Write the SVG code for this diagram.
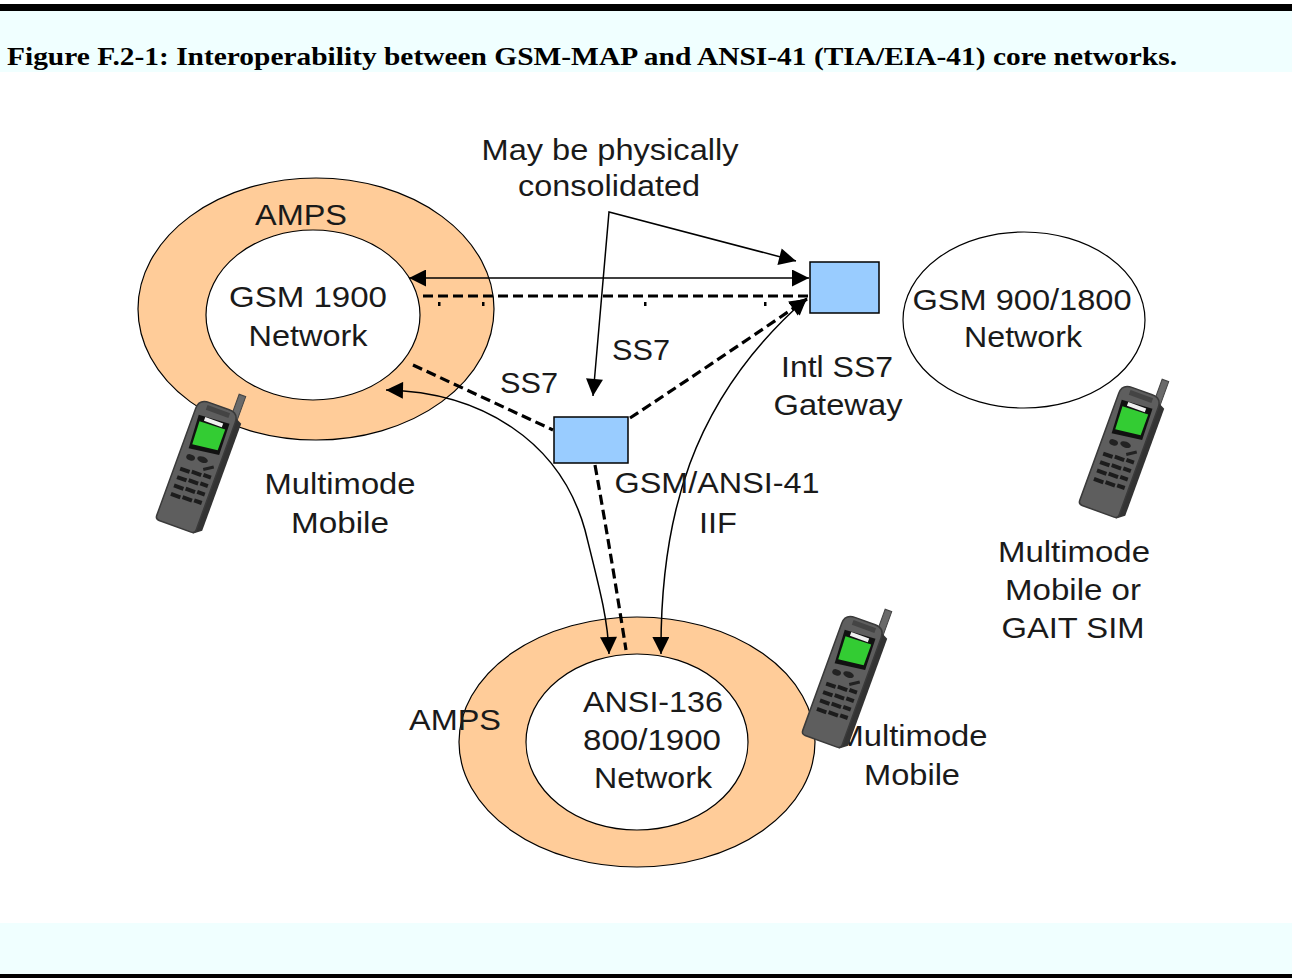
<svg xmlns="http://www.w3.org/2000/svg" xmlns:xlink="http://www.w3.org/1999/xlink" width="1292" height="978" viewBox="0 0 1292 978">
  <style>
    .lbl { font-family: "Liberation Sans", Arial, sans-serif; font-size: 29px; fill: #1a1a1a; text-anchor: middle; }
    .title { font-family: "Liberation Serif", "Times New Roman", serif; font-size: 26px; font-weight: bold; fill: #000; }
    .ring { fill: #FFCC99; stroke: #000; stroke-width: 1.2; }
    .core { fill: #FFFFFF; stroke: #000; stroke-width: 1.2; }
    .node { fill: #99CCFF; stroke: #000; stroke-width: 1.5; }
    .thin { fill: none; stroke: #000; stroke-width: 1.5; }
    .dash { fill: none; stroke: #000; stroke-width: 3.2; stroke-dasharray: 10 5; }
  </style>
  <defs>
    <marker id="arrow" viewBox="0 0 10 10" refX="10" refY="5" markerUnits="userSpaceOnUse" markerWidth="18" markerHeight="17" orient="auto-start-reverse">
      <path d="M0,0 L10,5 L0,10 Z" fill="#000"/>
    </marker>
    <!-- handset, drawn upright with its bottom centre at the origin -->
    <g id="phone">
      <rect x="13" y="-146" width="7" height="26" fill="#6a6a6a" stroke="#444" stroke-width="1"/>
      <path d="M15 -124 L25 -119 L25 -5 L17 1 Z" fill="#333"/>
      <path d="M-23 -118 Q-23 -128 -12 -128 L9 -128 Q19 -128 19 -118 L19 -4 Q19 0 15 0 L-19 0 Q-23 0 -23 -4 Z" fill="#5e5e5e" stroke="#3a3a3a" stroke-width="1.5"/>
      <rect x="-13" y="-125" width="24" height="5" fill="#444"/>
      <path d="M-18 -113 L14 -115 L15 -82 L-16 -78 Z" fill="#111"/>
      <rect x="-11" y="-113" width="19" height="4" fill="#f0f0f0"/>
      <path d="M-15 -107 L12 -108 L12 -86 L-14 -83 Z" fill="#33CC33"/>
      <ellipse cx="-11" cy="-70" rx="4.5" ry="3" fill="#222"/>
      <ellipse cx="1" cy="-72" rx="5.5" ry="3" fill="#222"/>
      <path d="M5 -63 L14 -69" stroke="#222" stroke-width="3"/>
      <g fill="#1c1c1c">
        <rect x="-17" y="-58" width="10" height="4"/>
        <rect x="-5" y="-59" width="10" height="4"/>
        <rect x="7" y="-60" width="8" height="4"/>
        <rect x="-17" y="-49" width="10" height="4"/>
        <rect x="-5" y="-50" width="10" height="4"/>
        <rect x="7" y="-51" width="8" height="4"/>
        <rect x="-17" y="-40" width="10" height="4"/>
        <rect x="-5" y="-41" width="10" height="4"/>
        <rect x="7" y="-42" width="8" height="4"/>
        <rect x="-17" y="-31" width="10" height="4"/>
        <rect x="-5" y="-32" width="10" height="4"/>
        <rect x="7" y="-33" width="8" height="4"/>
      </g>
    </g>
  </defs>

  <!-- page background and caption band -->
  <rect x="0" y="0" width="1292" height="978" fill="#FFFFFF"/>
  <rect x="0" y="10" width="1292" height="62" fill="#F0FFFF"/>
  <rect x="0" y="4" width="1292" height="7" fill="#000"/>
  <rect x="0" y="923" width="1292" height="51" fill="#F0FFFF"/>
  <rect x="0" y="974" width="1292" height="4" fill="#000"/>
  <text class="title" x="7" y="65" textLength="1170" lengthAdjust="spacingAndGlyphs">Figure F.2-1: Interoperability between GSM-MAP and ANSI-41 (TIA/EIA-41) core networks.</text>

  <!-- networks -->
  <g id="gsm1900">
    <ellipse class="ring" cx="316" cy="309" rx="178" ry="131"/>
    <ellipse class="core" cx="313" cy="315" rx="107" ry="85"/>
  </g>
  <g id="gsm900">
    <ellipse class="core" cx="1024" cy="320" rx="121" ry="88"/>
  </g>
  <g id="ansi136">
    <ellipse class="ring" cx="637" cy="742" rx="178" ry="125"/>
    <ellipse class="core" cx="637" cy="742" rx="111" ry="88"/>
  </g>
  <g id="gateway">
    <rect class="node" x="810" y="262" width="69" height="51"/>
  </g>
  <g id="iif">
    <rect class="node" x="554" y="417" width="74" height="46"/>
  </g>

  <!-- signalling links -->
  <g id="connectors">
    <line class="thin" x1="409" y1="278" x2="809" y2="278" marker-start="url(#arrow)" marker-end="url(#arrow)"/>
    <path class="dash" d="M423 296 L808 296"/>
    <g fill="#000">
      <rect x="438" y="302" width="2.5" height="4"/>
      <rect x="482" y="302" width="2.5" height="4"/>
      <rect x="644" y="302" width="2.5" height="4"/>
      <rect x="764" y="302" width="2.5" height="4"/>
    </g>
    <path class="dash" d="M413 365 L553 430"/>
    <path class="thin" d="M386 390 C480 392 560 440 585 530 C600 590 608 620 609 654" marker-start="url(#arrow)" marker-end="url(#arrow)"/>
    <path class="thin" d="M661 654 C660 520 690 400 807 298" marker-start="url(#arrow)" marker-end="url(#arrow)"/>
    <path class="dash" d="M630 418 Q700 372 807 299" marker-end="url(#arrow)"/>
    <path class="dash" d="M595 465 Q612 560 626 650"/>
    <path class="thin" d="M796 261 L609 212 L593 396" marker-start="url(#arrow)" marker-end="url(#arrow)"/>
  </g>

  <!-- labels -->
  <g id="labels">
    <text class="lbl" x="610" y="160" textLength="257" lengthAdjust="spacingAndGlyphs">May be physically</text>
    <text class="lbl" x="609" y="196" textLength="182" lengthAdjust="spacingAndGlyphs">consolidated</text>
    <text class="lbl" x="301" y="225" textLength="92" lengthAdjust="spacingAndGlyphs">AMPS</text>
    <text class="lbl" x="308" y="307" textLength="158" lengthAdjust="spacingAndGlyphs">GSM 1900</text>
    <text class="lbl" x="308" y="346" textLength="119" lengthAdjust="spacingAndGlyphs">Network</text>
    <text class="lbl" x="641" y="360" textLength="58" lengthAdjust="spacingAndGlyphs">SS7</text>
    <text class="lbl" x="529" y="393" textLength="58" lengthAdjust="spacingAndGlyphs">SS7</text>
    <text class="lbl" x="837" y="377" textLength="112" lengthAdjust="spacingAndGlyphs">Intl SS7</text>
    <text class="lbl" x="838" y="415" textLength="129" lengthAdjust="spacingAndGlyphs">Gateway</text>
    <text class="lbl" x="1022" y="310" textLength="219" lengthAdjust="spacingAndGlyphs">GSM 900/1800</text>
    <text class="lbl" x="1023" y="347" textLength="118" lengthAdjust="spacingAndGlyphs">Network</text>
    <text class="lbl" x="340" y="494" textLength="151" lengthAdjust="spacingAndGlyphs">Multimode</text>
    <text class="lbl" x="340" y="533" textLength="98" lengthAdjust="spacingAndGlyphs">Mobile</text>
    <text class="lbl" x="717" y="493" textLength="205" lengthAdjust="spacingAndGlyphs">GSM/ANSI-41</text>
    <text class="lbl" x="718" y="533" textLength="38" lengthAdjust="spacingAndGlyphs">IIF</text>
    <text class="lbl" x="1074" y="562" textLength="152" lengthAdjust="spacingAndGlyphs">Multimode</text>
    <text class="lbl" x="1073" y="600" textLength="136" lengthAdjust="spacingAndGlyphs">Mobile or</text>
    <text class="lbl" x="1073" y="638" textLength="143" lengthAdjust="spacingAndGlyphs">GAIT SIM</text>
    <text class="lbl" x="455" y="730" textLength="92" lengthAdjust="spacingAndGlyphs">AMPS</text>
    <text class="lbl" x="653" y="712" textLength="140" lengthAdjust="spacingAndGlyphs">ANSI-136</text>
    <text class="lbl" x="652" y="750" textLength="138" lengthAdjust="spacingAndGlyphs">800/1900</text>
    <text class="lbl" x="653" y="788" textLength="118" lengthAdjust="spacingAndGlyphs">Network</text>
    <text class="lbl" x="912" y="746" textLength="151" lengthAdjust="spacingAndGlyphs">Multimode</text>
    <text class="lbl" x="912" y="785" textLength="96" lengthAdjust="spacingAndGlyphs">Mobile</text>
  </g>

  <!-- handsets -->
  <g id="mobile-left"><use xlink:href="#phone" transform="translate(177 527) rotate(20)"/></g>
  <g id="mobile-right"><use xlink:href="#phone" transform="translate(1100 512) rotate(20)"/></g>
  <g id="mobile-bottom"><use xlink:href="#phone" transform="translate(823 742) rotate(20)"/></g>
</svg>
